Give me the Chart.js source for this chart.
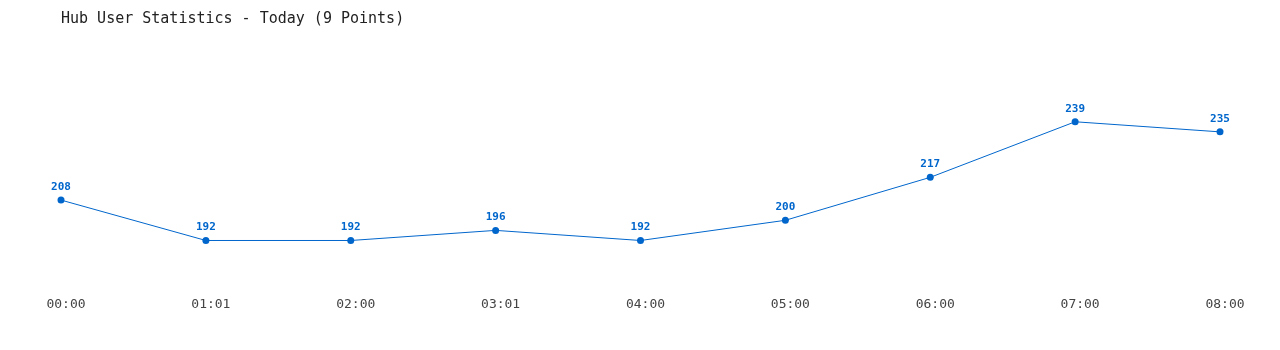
<!DOCTYPE html>
<html>
<head>
<meta charset="utf-8">
<script src="https://cdn.jsdelivr.net/npm/chart.js@4/dist/chart.umd.min.js"></script>
<style>
  html, body { margin: 0; padding: 0; background: #fff; }
  #wrap { width: 1280px; height: 350px; }
</style>
</head>
<body>
<div id="wrap"><canvas id="chart" width="1280" height="350"></canvas></div>
<script>
const times = ['00:00', '01:01', '02:00', '03:01', '04:00', '05:00', '06:00', '07:00', '08:00'];
const users = [208, 192, 192, 196, 192, 200, 217, 239, 235];
const titleText = 'Hub User Statistics - Today (9 Points)';

const MONO = '"DejaVu Sans Mono", "Liberation Mono", monospace';
const BLUE = '#0066cc';

// draws the value above every point
const valueLabels = {
  id: 'valueLabels',
  afterDatasetsDraw(chart) {
    const { ctx } = chart;
    const meta = chart.getDatasetMeta(0);
    ctx.save();
    ctx.font = 'bold 11px ' + MONO;
    ctx.fillStyle = BLUE;
    ctx.textAlign = 'center';
    ctx.textBaseline = 'middle';
    meta.data.forEach((pt, i) => {
      ctx.fillText(String(users[i]), pt.x, pt.y - 13);
    });
    ctx.restore();
  },
};

new Chart(document.getElementById('chart'), {
  type: 'line',
  data: {
    labels: times,
    datasets: [{
      data: users,
      borderColor: BLUE,
      backgroundColor: BLUE,
      borderWidth: 1,
      pointRadius: 3.5,
      pointBackgroundColor: BLUE,
      pointBorderWidth: 0,
      tension: 0,
    }],
  },
  options: {
    responsive: false,
    animation: false,
    layout: { padding: { left: 61, right: 60, top: 0, bottom: 22 } },
    plugins: {
      legend: { display: false },
      tooltip: { enabled: false },
      title: {
        display: true,
        text: titleText,
        align: 'start',
        color: '#222',
        font: { family: MONO, size: 15, weight: 'normal' },
        padding: { top: 10, bottom: 19 },
      },
    },
    scales: {
      x: {
        offset: false,
        grid: { display: false, drawTicks: false },
        border: { display: false },
        ticks: {
          color: '#444',
          font: { family: MONO, size: 13 },
          padding: 16,
          labelOffset: 5,
          maxRotation: 0,
          autoSkip: false,
        },
      },
      y: {
        display: false,
        min: 176.2,
        max: 268.6,
      },
    },
  },
  plugins: [valueLabels],
});
</script>
</body>
</html>
